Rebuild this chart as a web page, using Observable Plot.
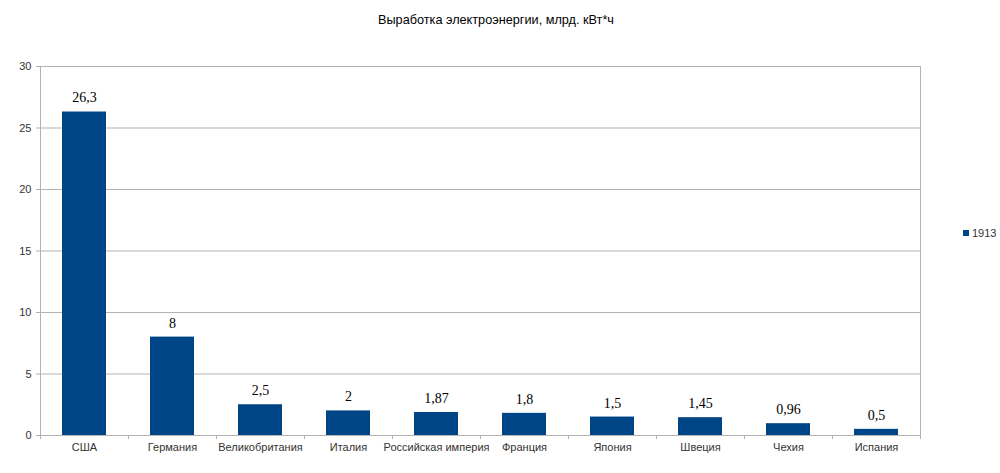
<!DOCTYPE html>
<html><head><meta charset="utf-8">
<script src="https://cdn.jsdelivr.net/npm/d3@7"></script>
<script src="https://cdn.jsdelivr.net/npm/@observablehq/plot@0.6"></script>
<style>
body{margin:0;background:#fff;width:1000px;height:473px;overflow:hidden;position:relative;font-family:"Liberation Sans",Arial,sans-serif;}
#title{height:40px;line-height:40px;text-align:center;font-size:12.7px;color:#000;padding-right:8px;}
#legend{position:absolute;left:963px;top:227px;font-size:11px;color:#333;display:flex;align-items:center;}
#legend span.sw{display:inline-block;width:6px;height:6px;background:#004586;margin-right:3px;}
</style></head>
<body>
<div id="title">Выработка электроэнергии, млрд. кВт*ч</div>
<div id="chart"></div>
<div id="legend"><span class="sw"></span>1913</div>
<script>
const countries = ["США","Германия","Великобритания","Италия","Российская империя","Франция","Япония","Швеция","Чехия","Испания"];
const values1913 = [26.3, 8, 2.5, 2, 1.87, 1.8, 1.5, 1.45, 0.96, 0.5];
const yTicks = [0, 5, 10, 15, 20, 25, 30];

const data = countries.map((c, i) => ({country: c, value: values1913[i]}));
const fmt = v => String(v).replace(".", ",");
const grid = "#b3b3b3";

const chart = Plot.plot({
  width: 1000,
  height: 433,
  marginLeft: 40,
  marginRight: 80,
  marginTop: 26,
  marginBottom: 38,
  style: {fontFamily: "'Liberation Sans', Arial, sans-serif", fontSize: "11px", color: "#333", background: "#fff"},
  x: {domain: countries, paddingInner: 0.5, paddingOuter: 0.25, label: null},
  y: {domain: [0, 30], label: null},
  marks: [
    Plot.ruleY(yTicks, {stroke: grid, strokeWidth: 1}),
    Plot.frame({stroke: grid}),
    Plot.axisY({ticks: yTicks, tickSize: 4, tickPadding: 5, stroke: grid, label: null, fill: "#333"}),
    Plot.axisX({tickSize: 0, tickPadding: 8, label: null, fill: "#333"}),
    Plot.ruleX(countries, {x: d => d, y1: 0, y2: -0.33, dx: -44, stroke: grid}),
    Plot.ruleX([countries[countries.length - 1]], {x: d => d, y1: 0, y2: -0.33, dx: 44, stroke: grid}),
    Plot.barY(data, {x: "country", y: "value", fill: "#004586"}),
    Plot.text(data, {x: "country", y: "value", text: d => fmt(d.value), dy: -14, fontFamily: "'Liberation Serif', 'Times New Roman', serif", fontSize: 14, fill: "#000"})
  ]
});
document.getElementById("chart").appendChild(chart);
</script>
</body></html>
